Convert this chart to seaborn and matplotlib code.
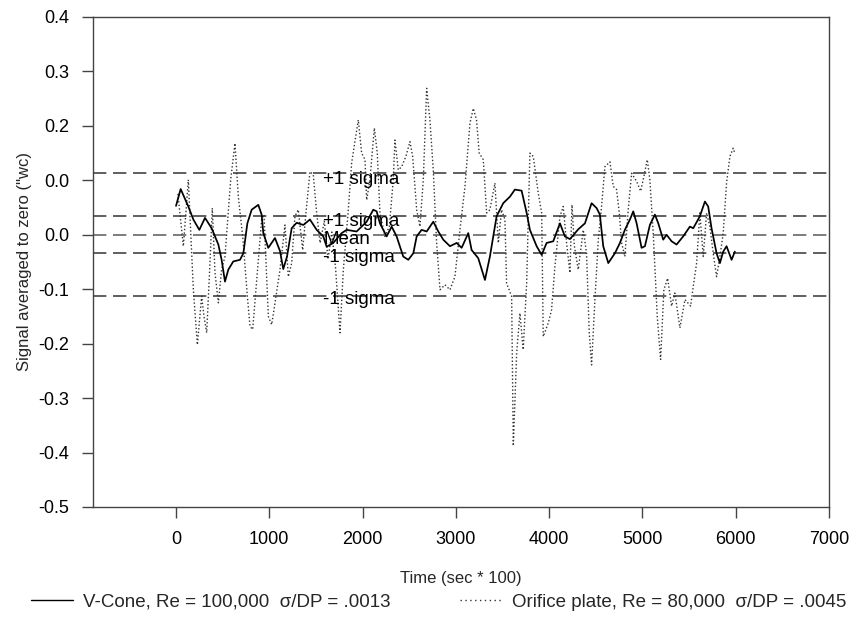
import numpy as np
import pandas as pd
import seaborn as sns
import matplotlib
matplotlib.use("Agg")
import matplotlib.pyplot as plt
from matplotlib.lines import Line2D

# V-Cone signal (Re = 100,000)
vcone_t = [0, 50, 132, 186, 250, 311, 382, 454, 489, 525, 561, 614, 686, 722, 765, 811,
           882, 918, 936, 989, 1061, 1115, 1150, 1190, 1240, 1293, 1365, 1436, 1508, 1579,
           1615, 1686, 1776, 1829, 1936, 2044, 2115, 2151, 2186, 2258, 2312, 2365, 2436,
           2490, 2544, 2580, 2633, 2687, 2758, 2812, 2865, 2937, 3009, 3062, 3133, 3169,
           3240, 3312, 3365, 3437, 3508, 3580, 3633, 3705, 3759, 3794, 3866, 3920, 3973,
           4044, 4116, 4169, 4223, 4312, 4384, 4455, 4509, 4544, 4580, 4634, 4705, 4759,
           4812, 4866, 4902, 4938, 4991, 5027, 5080, 5134, 5170, 5223, 5259, 5313, 5366,
           5437, 5509, 5545, 5616, 5670, 5705, 5741, 5795, 5831, 5866, 5902, 5956, 5991]
vcone_y = [0.053, 0.084, 0.052, 0.028, 0.009, 0.031, 0.012, -0.018, -0.046, -0.086, -0.064,
           -0.049, -0.046, -0.034, 0.021, 0.046, 0.055, 0.037, 0.003, -0.024, -0.006, -0.030,
           -0.063, -0.040, 0.012, 0.022, 0.018, 0.028, 0.009, -0.003, -0.022, -0.015, 0.003,
           0.009, 0.006, 0.024, 0.046, 0.043, 0.021, -0.003, 0.015, -0.003, -0.040, -0.046,
           -0.034, -0.003, 0.009, 0.006, 0.024, 0.006, -0.009, -0.021, -0.015, -0.024, 0.003,
           -0.028, -0.043, -0.083, -0.040, 0.034, 0.058, 0.070, 0.083, 0.081, 0.040, 0.009,
           -0.021, -0.037, -0.015, -0.012, 0.021, -0.003, -0.008, 0.010, 0.021, 0.058, 0.049,
           0.037, -0.021, -0.052, -0.034, -0.015, 0.009, 0.028, 0.043, 0.021, -0.024, -0.021,
           0.018, 0.037, 0.021, -0.009, 0.000, -0.012, -0.018, -0.003, 0.015, 0.012, 0.034,
           0.061, 0.052, 0.012, -0.034, -0.052, -0.031, -0.021, -0.046, -0.031]

# Orifice plate signal (Re = 80,000)
orifice_t = [20, 79, 132, 186, 229, 275, 300, 329, 364, 389, 418, 454, 489, 525, 586, 632,
             668, 715, 765, 793, 822, 865, 918, 943, 965, 990, 1026, 1072, 1115, 1168, 1204,
             1240, 1275, 1311, 1358, 1393, 1436, 1472, 1508, 1545, 1590, 1630, 1670, 1710,
             1758, 1794, 1847, 1883, 1954, 1990, 2026, 2044, 2079, 2126, 2158, 2186, 2240,
             2287, 2329, 2347, 2383, 2419, 2465, 2508, 2537, 2580, 2615, 2651, 2687, 2722,
             2758, 2794, 2830, 2883, 2937, 2990, 3044, 3098, 3151, 3187, 3222, 3250, 3294,
             3330, 3365, 3419, 3455, 3490, 3526, 3544, 3598, 3616, 3652, 3687, 3722, 3759,
             3794, 3830, 3883, 3920, 3937, 3991, 4026, 4062, 4116, 4151, 4187, 4223, 4245,
             4270, 4312, 4366, 4401, 4430, 4455, 4491, 4527, 4562, 4598, 4652, 4687, 4723,
             4752, 4777, 4812, 4848, 4884, 4938, 4981, 5016, 5052, 5080, 5116, 5159, 5195,
             5230, 5270, 5313, 5348, 5402, 5456, 5517, 5545, 5581, 5616, 5652, 5688, 5723,
             5759, 5795, 5831, 5866, 5902, 5938, 5973, 5991]
orifice_y = [0.075, -0.021, 0.101, -0.101, -0.202, -0.113, -0.150, -0.180, -0.052, 0.049,
             -0.070, -0.125, -0.064, -0.040, 0.101, 0.168, 0.070, -0.003, -0.113, -0.168,
             -0.174, -0.083, 0.028, 0.037, -0.052, -0.150, -0.165, -0.113, -0.064, 0.018,
             -0.077, -0.052, 0.034, 0.046, -0.028, 0.040, 0.116, 0.110, 0.040, -0.015, 0.025,
             -0.045, 0.005, -0.060, -0.180, -0.064, 0.046, 0.132, 0.211, 0.150, 0.138, 0.064,
             0.101, 0.196, 0.150, 0.040, -0.003, 0.015, 0.101, 0.174, 0.119, 0.125, 0.144,
             0.171, 0.144, 0.046, 0.015, 0.101, 0.269, 0.211, 0.119, -0.015, -0.101, -0.092,
             -0.101, -0.077, 0.009, 0.089, 0.205, 0.232, 0.211, 0.150, 0.138, 0.040, 0.046,
             0.095, -0.015, 0.046, 0.028, -0.089, -0.113, -0.388, -0.217, -0.144, -0.211,
             -0.089, 0.150, 0.144, 0.077, 0.040, -0.187, -0.162, -0.138, -0.058, 0.034, 0.052,
             -0.015, -0.070, 0.055, -0.020, -0.064, 0.009, -0.034, -0.180, -0.239, -0.119,
             -0.009, 0.052, 0.125, 0.134, 0.089, 0.083, 0.040, -0.015, -0.040, 0.046, 0.113,
             0.098, 0.080, 0.107, 0.138, 0.101, 0.003, -0.150, -0.229, -0.101, -0.080, -0.131,
             -0.107, -0.171, -0.119, -0.131, -0.095, -0.052, 0.040, -0.040, 0.040, 0.015,
             -0.034, -0.077, -0.040, 0.003, 0.095, 0.144, 0.159, 0.150]

# reference lines: level, label
sigma_levels = [0.114, 0.0336, 0.0, -0.0336, -0.112]
sigma_labels = ["+1 sigma", "+1 sigma", "Mean", "-1 sigma", "-1 sigma"]
sigma_label_y = [0.101, 0.0244, -0.0092, -0.0422, -0.119]

ytick_vals = [0.4, 0.3, 0.2, 0.1, 0.0, -0.1, -0.2, -0.3, -0.4, -0.5]
ytick_labels = ["0.4", "0.3", "0.2", "0.0", "0.0", "-0.1", "-0.2", "-0.3", "-0.4", "-0.5"]
xtick_vals = [0, 1000, 2000, 3000, 4000, 5000, 6000, 7000]

vcone_label = "V-Cone, Re = 100,000  \u03c3/DP = .0013"
orifice_label = "Orifice plate, Re = 80,000  \u03c3/DP = .0045"

df_v = pd.DataFrame({"t": vcone_t, "y": vcone_y})
df_o = pd.DataFrame({"t": orifice_t, "y": orifice_y})

sns.set_style("ticks")
plt.rcParams["font.family"] = ["Liberation Sans", "DejaVu Sans"]

fig = plt.figure(figsize=(8.57, 6.22), dpi=100)
ax = fig.add_axes([0.1085, 0.1849, 0.8588, 0.7878])

dotted = (0, (1, 1.6))
sns.lineplot(data=df_o, x="t", y="y", ax=ax, color="#333333", lw=1.0,
             linestyle=dotted, estimator=None, sort=False)
sns.lineplot(data=df_v, x="t", y="y", ax=ax, color="black", lw=1.25,
             estimator=None, sort=False)

for lvl, lab, ly in zip(sigma_levels, sigma_labels, sigma_label_y):
    ax.axhline(lvl, color="#444444" if lvl != 0 else "#666666", lw=1.2,
               linestyle=(0, (8, 4)), zorder=1)
    ax.text(1576, ly, lab, ha="left", va="center", fontsize=13.5, color="black")

ax.set_xlim(-890, 7000)
ax.set_ylim(-0.5, 0.4)
ax.set_xticks(xtick_vals)
ax.set_xticklabels([str(v) for v in xtick_vals])
ax.set_yticks(ytick_vals)
ax.set_yticklabels(ytick_labels)
ax.tick_params(axis="both", direction="out", length=8, width=1, colors="#444444",
               labelcolor="black", labelsize=13, pad=9)
for s in ax.spines.values():
    s.set_color("#444444")
    s.set_linewidth(1.0)

ax.set_xlabel("Time (sec * 100)", fontsize=12, labelpad=17)
ax.set_ylabel('Signal averaged to zero ("wc)', fontsize=12, labelpad=5)

handles = [Line2D([], [], color="black", lw=1.0),
           Line2D([], [], color="#333333", lw=1.0, linestyle=(0, (1, 2.5)))]
fig.legend(handles, [vcone_label, orifice_label], ncol=2, frameon=False,
           loc="center left", bbox_to_anchor=(0.036, 0.032), fontsize=13.5,
           handlelength=2.25, handletextpad=0.55, columnspacing=3.67, borderaxespad=0,
           borderpad=0)

fig.savefig("out.png", dpi=100)
